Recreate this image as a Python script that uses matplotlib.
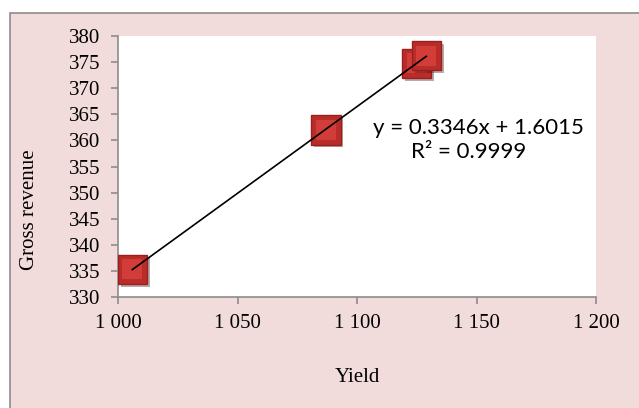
import matplotlib
matplotlib.use('Agg')
import matplotlib.pyplot as plt
import matplotlib.patheffects as pe
from matplotlib.patches import Rectangle
from matplotlib.ticker import FuncFormatter
import numpy as np

# values
yieldVals = [1006, 1087, 1125, 1129]
revenue = [335.3, 362.0, 374.8, 376.2]

eqText = 'y = 0.3346x + 1.6015'
r2Text = 'R² = 0.9999'

pink = '#F2DCDB'

fig = plt.figure(figsize=(6.39, 4.08), dpi=100)
fig.patch.set_facecolor('white')

# outer chart frame
frame = Rectangle((10 / 639, -0.05), 1.1, 1 - 13 / 408 + 0.05,
                  transform=fig.transFigure, facecolor=pink,
                  edgecolor='#8c8c8c', linewidth=1.2, zorder=-5)
fig.patches.append(frame)

ax = fig.add_axes([118 / 639, 1 - 297 / 408, 478 / 639, 261 / 408])
ax.set_facecolor('white')

# square markers with a little bevel look, one point at a time so they stack
for i in range(len(yieldVals)):
    z = 3 + i * 0.1
    ax.plot([yieldVals[i]], [revenue[i]], linestyle='none', marker='s', markersize=21,
            markerfacecolor='#B82C29', markeredgecolor='#9A201D', markeredgewidth=1,
            zorder=z,
            path_effects=[pe.SimplePatchShadow(offset=(2, -2), alpha=0.35), pe.Normal()])
    ax.plot([yieldVals[i]], [revenue[i]], linestyle='none', marker='s', markersize=15,
            markerfacecolor='#D33D39', markeredgewidth=0, zorder=z + 0.05)

# linear trendline
k, b = np.polyfit(yieldVals, revenue, 1)
xs = np.array([min(yieldVals), max(yieldVals)])
ax.plot(xs, k * xs + b, color='black', linewidth=1.2, zorder=4)

ax.text(478, 408 - 128, eqText, transform=None, fontsize=16, family='Lato',
        ha='center', va='center')
ax.text(469, 408 - 152, r2Text, transform=None, fontsize=16, family='Lato',
        ha='center', va='center')

ax.set_xlim(1000, 1200)
ax.set_ylim(330, 380)
ax.set_xticks(np.arange(1000, 1201, 50))
ax.set_yticks(np.arange(330, 381, 5))
ax.xaxis.set_major_formatter(FuncFormatter(lambda v, p: '{:,.0f}'.format(v).replace(',', ' ')))

for s in ['top', 'right']:
    ax.spines[s].set_visible(False)
for s in ['left', 'bottom']:
    ax.spines[s].set_color('#8c8c8c')
    ax.spines[s].set_linewidth(1.2)

ax.tick_params(colors='#8c8c8c', labelcolor='black', length=5, width=1.2,
               labelsize=15)
for lab in ax.get_xticklabels() + ax.get_yticklabels():
    lab.set_family('Liberation Serif')
ax.tick_params(axis='x', pad=7)
ax.tick_params(axis='y', pad=8)

fig.text(30 / 639, 1 - 210 / 408, 'Gross revenue', rotation=90, ha='center',
         va='center', fontsize=15, family='Liberation Serif')
fig.text(357 / 639, 1 - 378 / 408, 'Yield', ha='center', va='center',
         fontsize=15, family='Liberation Serif')

fig.savefig('out.png', dpi=100, facecolor=fig.get_facecolor())
